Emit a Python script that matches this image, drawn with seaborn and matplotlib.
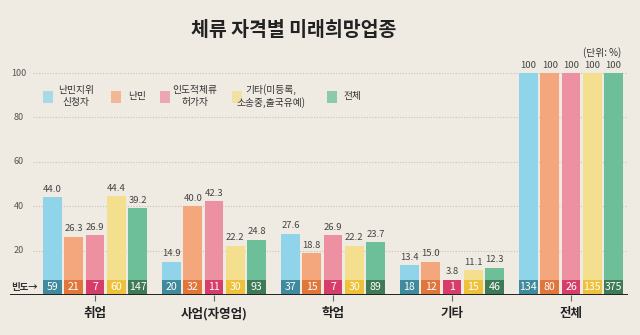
import numpy as np
import pandas as pd
import matplotlib
matplotlib.use("Agg")
import matplotlib.pyplot as plt
from matplotlib.patches import Rectangle
import seaborn as sns

# ---- data ----
categories = ["취업", "사업(자영업)", "학업", "기타", "전체"]
groups = ["난민지위\n신청자", "난민", "인도적체류\n허가자", "기타(미등록,\n소송중,출국유예)", "전체"]
pct_applicant = [44.0, 14.9, 27.6, 13.4, 100]
pct_refugee = [26.3, 40.0, 18.8, 15.0, 100]
pct_humanitarian = [26.9, 42.3, 26.9, 3.8, 100]
pct_other = [44.4, 22.2, 22.2, 11.1, 100]
pct_total = [39.2, 24.8, 23.7, 12.3, 100]
cnt_applicant = [59, 20, 37, 18, 134]
cnt_refugee = [21, 32, 15, 12, 80]
cnt_humanitarian = [7, 11, 7, 1, 26]
cnt_other = [60, 30, 30, 15, 135]
cnt_total = [147, 93, 89, 46, 375]
y_ticks = [20, 40, 60, 80, 100]

pcts = [pct_applicant, pct_refugee, pct_humanitarian, pct_other, pct_total]
cnts = [cnt_applicant, cnt_refugee, cnt_humanitarian, cnt_other, cnt_total]

light = ["#8fd4e8", "#f4a77c", "#ec90a2", "#f3df8e", "#6dbf99"]
dark = ["#3f8a9c", "#e0763a", "#d63d6b", "#eec13a", "#3d7a55"]
BG = "#efebe3"
BAND = 6.8

rows = []
for g, pv, cv in zip(groups, pcts, cnts):
    for c, p, n in zip(categories, pv, cv):
        rows.append({"cat": c, "grp": g, "pct": p, "cnt": n, "band": BAND})
df = pd.DataFrame(rows)

sns.set_style("white")
plt.rcParams["font.family"] = ["Noto Sans CJK KR", "DejaVu Sans"]

fig = plt.figure(figsize=(6.4, 3.35), dpi=100, facecolor=BG)
H = 335.0
W = 640.0
ax = fig.add_axes([10 / W, 40 / H, 618 / W, 244.2 / H])
ax.set_facecolor(BG)

sns.barplot(data=df, x="cat", y="pct", hue="grp", order=categories, hue_order=groups,
            palette=light, width=0.895, gap=0.13, ax=ax, legend=False, zorder=3,
            saturation=1, errorbar=None)
sns.barplot(data=df, x="cat", y="band", hue="grp", order=categories, hue_order=groups,
            palette=dark, width=0.895, gap=0.13, ax=ax, legend=False, zorder=4,
            saturation=1, errorbar=None)

for p in ax.patches:
    p.set_linewidth(0)

# labels
for i in range(len(groups)):
    cont_val = ax.containers[i]
    cont_band = ax.containers[i + len(groups)]
    for j, (bar, bbar) in enumerate(zip(cont_val, cont_band)):
        v = pcts[i][j]
        xc = bar.get_x() + bar.get_width() / 2
        lab = "100" if v == 100 else f"{v:.1f}"
        ax.annotate(lab, (xc, max(v, BAND)), xytext=(0, 2.5), textcoords="offset points",
                    ha="center", va="bottom", fontsize=6.8, color="#444444", zorder=6)
        ax.text(xc, BAND / 2, str(cnts[i][j]), ha="center", va="center",
                fontsize=7.6, color="white", zorder=6)

xl = (-85 / 119, 533 / 119)
ax.set_xlim(*xl)
ax.set_ylim(0, 110)
ax.hlines(y_ticks, (33 - 95) / 119, xl[1], colors="#c9c4ba", linestyles=(0, (1, 1.5)),
          lw=0.8, zorder=1)
ax.axhline(0, color="#222222", lw=1.4, zorder=7)
for t in y_ticks:
    ax.text((19 - 95) / 119, t, str(t), ha="center", va="center", fontsize=6.5, color="#555555")
ax.text((11 - 95) / 119, BAND / 2, "빈도→", ha="left", va="center", fontsize=6.8,
        color="#333333", fontweight="bold", family=["Noto Sans CJK KR", "DejaVu Sans"])

for s in ax.spines.values():
    s.set_visible(False)
ax.set_yticks([])
ax.set_xlabel("")
ax.set_ylabel("")
ax.tick_params(axis="x", length=4, width=0.8, color="#666666", pad=5, bottom=True)
for lab in ax.get_xticklabels():
    lab.set_fontsize(9)
    lab.set_fontweight("bold")
    lab.set_color("#222222")

# title & unit
fig.text(294 / W, 1 - 30 / H, "체류 자격별 미래희망업종", ha="center", va="center",
         fontsize=14, fontweight="bold", color="#222222")
fig.text(602 / W, 1 - 53 / H, "(단위: %)", ha="center", va="center", fontsize=7,
         color="#333333")

# legend
sq_x = [43, 111, 160, 232, 327]
txt_x = [76, 128, 195, 271, 343]
txt_ha = ["center", "left", "center", "center", "left"]
for k in range(len(groups)):
    fig.patches.append(Rectangle((sq_x[k] / W, 1 - 103 / H), 10 / W, 12 / H,
                                 transform=fig.transFigure, facecolor=light[k],
                                 edgecolor="none", alpha=0.75))
    fig.text(txt_x[k] / W, 1 - 96 / H, groups[k], ha=txt_ha[k], va="center",
             fontsize=7, color="#333333", multialignment="center", linespacing=1.15)

fig.savefig("out.png", dpi=100, facecolor=BG)
